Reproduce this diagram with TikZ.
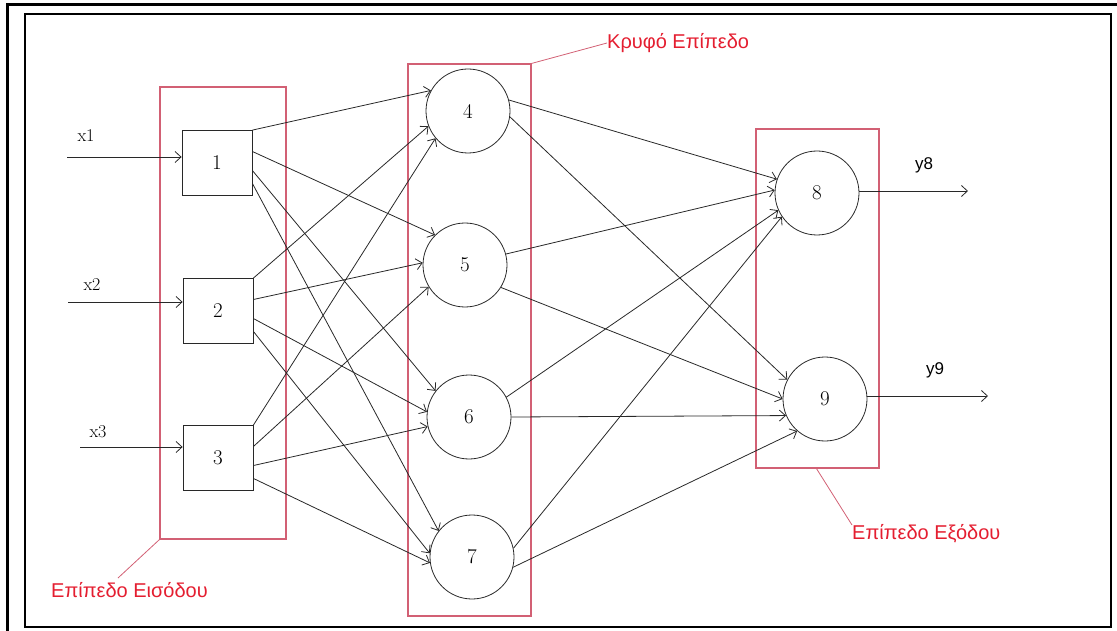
\documentclass[tikz,border=0pt]{standalone}
\usepackage{fontspec}
\newfontfamily\layerfont{Liberation Sans}
\usetikzlibrary{arrows.meta}

\definecolor{boxred}{RGB}{210,96,116}
\definecolor{textred}{RGB}{228,30,48}
\definecolor{linkgray}{RGB}{40,40,40}

\tikzset{
  neuron/.style={draw=linkgray, circle, minimum size=84, inner sep=0pt, line width=0.8pt, font=\fontsize{21}{22}\selectfont},
  inunit/.style={draw=linkgray, rectangle, minimum width=70, minimum height=65, inner sep=0pt, line width=0.8pt, font=\fontsize{21}{22}\selectfont},
  layerbox/.style={draw=boxred, rectangle, inner sep=0pt, line width=1.1pt},
  link/.style={draw=linkgray, line width=0.8pt, -{Straight Barb[length=6pt,width=11pt]}},
  leader/.style={draw=boxred, line width=0.8pt},
  layertext/.style={text=textred, inner sep=0pt, font=\layerfont\fontsize{20}{22}\selectfont},
  sigtext/.style={inner sep=0pt, font=\fontsize{18}{19}\selectfont},
}

\begin{document}
\begin{tikzpicture}[x=1pt,y=1pt,yscale=-1,xscale=1]
\useasboundingbox (0,0) rectangle (1117,631);

%Frame
\draw [line width=3pt] (7,631) -- (7,5) -- (1117,5) ;
\draw [line width=2.6pt] (25,14) rectangle (1111,627) ;

%Layer boxes
\node [layerbox, minimum width=126, minimum height=452] (inbox) at (223,313) {};
\node [layerbox, minimum width=123, minimum height=552] (hidbox) at (469.5,340) {};
\node [layerbox, minimum width=123, minimum height=339] (outbox) at (817.5,298.5) {};

%Input units
\node [inunit] (n1) at (217,163) {1};
\node [inunit] (n2) at (218,311) {2};
\node [inunit] (n3) at (218,458) {3};

%Hidden units
\node [neuron] (n4) at (468,111) {4};
\node [neuron] (n5) at (465,265) {5};
\node [neuron] (n6) at (469,417) {6};
\node [neuron] (n7) at (472,557) {7};

%Output units
\node [neuron] (n8) at (817,193) {8};
\node [neuron] (n9) at (825,399) {9};

% Input signals
\coordinate (in1) at (67,157);
\coordinate (in2) at (68,302);
\coordinate (in3) at (80,447);
\draw [link] (in1) -- (in1 -| n1.west) ;
\draw [link] (in2) -- (in2 -| n2.west) ;
\draw [link] (in3) -- (in3 -| n3.west) ;
\node [sigtext] (lx1) at (86,136) {x1};
\node [sigtext] (lx2) at (92,285) {x2};
\node [sigtext] (lx3) at (98,432) {x3};

%Straight Lines: input -> hidden
\draw [link] (n1.north east) -- (n4.151) ;
\draw [link] (n1.18) -- (n5.135) ;
\draw [link] (n1.-12) -- (n6.142) ;
\draw [link] (n1.-30) -- (n7.142) ;
\draw [link] (n2.north east) -- (n4.201) ;
\draw [link] (n2.18) -- (n5.177) ;
\draw [link] (n2.-12) -- (n6.173) ;
\draw [link] (n2.-30) -- (n7.175) ;
\draw [link] (n3.north east) -- (n4.220) ;
\draw [link] (n3.18) -- (n5.211) ;
\draw [link] (n3.-12) -- (n6.193) ;
\draw [link] (n3.-30) -- (n7.188) ;

%Straight Lines: hidden -> output
\draw [link] (n4.15) -- (n8.161) ;
\draw [link] (n4.-8) -- (n9.153) ;
\draw [link] (n5.15) -- (n8.176) ;
\draw [link] (n5.-32) -- (n9.180) ;
\draw [link] (n6.28) -- (n8.204) ;
\draw [link] (n6.0) -- (n9.203) ;
\draw [link] (n7.12) -- (n8.214) ;
\draw [link] (n7.-14) -- (n9.229) ;

% Output signals
\coordinate (out8) at (968,191);
\coordinate (out9) at (988,396);
\draw [link] (n8.east |- out8) -- (out8) ;
\draw [link] (n9.east |- out9) -- (out9) ;
\node [sigtext, font=\layerfont\fontsize{17}{18}\selectfont] (ly8) at (924,165) {y8};
\node [sigtext, font=\layerfont\fontsize{17}{18}\selectfont] (ly9) at (935,370) {y9};

% Text Node
\node [layertext, anchor=west] (hidlbl) at (607,43) {Κρυφό Επίπεδο};
% Text Node
\node [layertext, anchor=west] (inlbl) at (51,590) {Επίπεδο Εισόδου};
% Text Node
\node [layertext, anchor=west] (outlbl) at (852,534) {Επίπεδο Εξόδου};

%Leader lines
\coordinate (inlead) at (118,578);
\coordinate (outlead) at (852,525);
\draw [leader] (hidbox.north east) -- (hidlbl.west) ;
\draw [leader] (inbox.south west) -- (inlead) ;
\draw [leader] (outbox.south west) ++(61,0) coordinate (outfoot) ;
\draw [leader] (outfoot) -- (outlead) ;

\end{tikzpicture}
\end{document}
